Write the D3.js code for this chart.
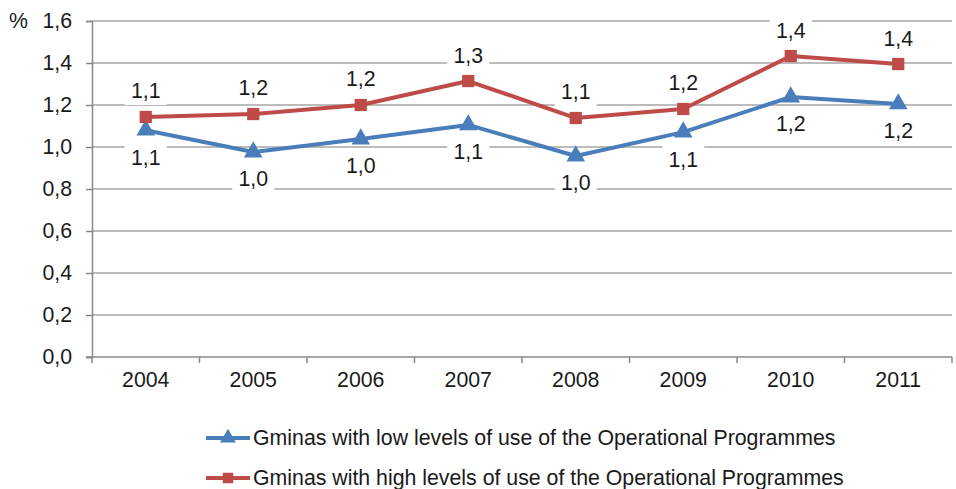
<!DOCTYPE html>
<html><head><meta charset="utf-8">
<script src="https://cdn.jsdelivr.net/npm/d3@7"></script>
<style>body{margin:0;background:#fff}svg{display:block;font-family:"Liberation Sans",Arial,sans-serif}</style>
</head><body><svg id="c" width="956" height="489"></svg>
<script>
const years = ["2004","2005","2006","2007","2008","2009","2010","2011"];
const lowValues = [1.08, 0.976, 1.038, 1.105, 0.957, 1.071, 1.238, 1.205];
const highValues = [1.143, 1.157, 1.2, 1.314, 1.138, 1.181, 1.433, 1.395];
const lowLabels = ["1,1","1,0","1,0","1,1","1,0","1,1","1,2","1,2"];
const highLabels = ["1,1","1,2","1,2","1,3","1,1","1,2","1,4","1,4"];
const yTicks = [0,0.2,0.4,0.6,0.8,1.0,1.2,1.4,1.6];
const seriesNames = ["Gminas with low levels of use of the Operational Programmes","Gminas with high levels of use of the Operational Programmes"];

const FS = 21.3;
const svg = d3.select("#c");
const x = d3.scaleBand().domain(years).range([92, 952]);
const y = d3.scaleLinear().domain([0,1.6]).range([357, 21]);
const fmt = d => d.toFixed(1).replace(".", ",");
const blue = "#4A7EBB", red = "#BE4B48";

// gridlines
svg.append("g").selectAll("line").data(yTicks.filter(d=>d>0)).join("line")
  .attr("x1",92).attr("x2",952).attr("y1",d=>y(d)).attr("y2",d=>y(d))
  .attr("stroke","#a6a6a6").attr("stroke-width",1.3);

// y axis
const ya = svg.append("g").attr("transform","translate(92,0)")
  .call(d3.axisLeft(y).tickValues(yTicks).tickFormat(fmt).tickSize(6).tickPadding(14));
ya.select(".domain").attr("stroke","#888").attr("stroke-width",1.5);
ya.selectAll(".tick line").attr("stroke","#888").attr("stroke-width",1.5);
ya.selectAll("text").attr("font-size",FS).attr("fill","#1a1a1a").attr("font-family","Liberation Sans, Arial, sans-serif");

// x axis
const xa = svg.append("g").attr("transform","translate(0,357)")
  .call(d3.axisBottom(x).tickSize(0).tickPadding(15));
xa.select(".domain").attr("stroke","#888").attr("stroke-width",1.5).attr("d","M86,0H952");
xa.selectAll("text").attr("font-size",FS).attr("fill","#1a1a1a").attr("font-family","Liberation Sans, Arial, sans-serif");
svg.append("g").selectAll("line").data(years.concat(["end"])).join("line")
  .attr("x1",(d,i)=>92+i*x.bandwidth()).attr("x2",(d,i)=>92+i*x.bandwidth())
  .attr("y1",357).attr("y2",363).attr("stroke","#888").attr("stroke-width",1.5);

svg.append("text").attr("x",9).attr("y",28).attr("font-size",FS).attr("fill","#1a1a1a").text("%");

const cx = d => x(d) + x.bandwidth()/2;
const line = d3.line().x((d,i)=>cx(years[i])).y(d=>y(d));

function drawSeries(vals, color, shape){
  svg.append("path").datum(vals).attr("d",line).attr("fill","none")
    .attr("stroke",color).attr("stroke-width",4).attr("stroke-linejoin","round");
  const sym = d3.symbol().type(shape).size(150);
  svg.append("g").selectAll("path").data(vals).join("path")
    .attr("transform",(d,i)=>`translate(${cx(years[i])},${y(d)})`)
    .attr("d",sym).attr("fill",color);
}

function drawLabels(vals, labels, dy){
  const g = svg.append("g");
  vals.forEach((v,i)=>{
    const px = cx(years[i]), py = y(v)+dy;
    g.append("rect").attr("x",px-21).attr("y",py-14).attr("width",42).attr("height",28).attr("fill","#fff");
    g.append("text").attr("x",px).attr("y",py).attr("dy","0.35em").attr("text-anchor","middle")
      .attr("font-size",FS).attr("fill","#1a1a1a").text(labels[i]);
  });
}

drawLabels(highValues, highLabels, -26);
drawLabels(lowValues, lowLabels, 27);
drawSeries(lowValues, blue, d3.symbolTriangle);
drawSeries(highValues, red, d3.symbolSquare);

// legend
const leg = [{c:blue,s:d3.symbolTriangle,y:438},{c:red,s:d3.symbolSquare,y:478}];
leg.forEach((l,i)=>{
  svg.append("line").attr("x1",206).attr("x2",250).attr("y1",l.y).attr("y2",l.y).attr("stroke",l.c).attr("stroke-width",4);
  svg.append("path").attr("transform",`translate(228,${l.y})`).attr("d",d3.symbol().type(l.s).size(110)).attr("fill",l.c);
  svg.append("text").attr("x",253).attr("y",l.y).attr("dy","0.35em").attr("font-size",FS).attr("fill","#1a1a1a").text(seriesNames[i]);
});
</script></body></html>
